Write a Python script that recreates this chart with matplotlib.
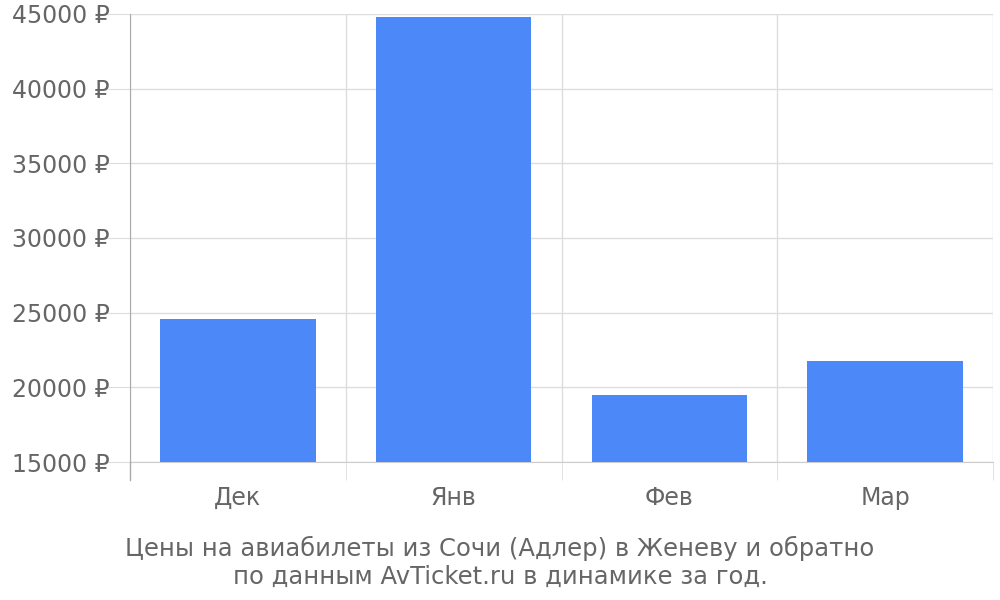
import matplotlib
matplotlib.use("Agg")
import matplotlib.pyplot as plt
from matplotlib.ticker import FixedLocator

months = ["Дек", "Янв", "Фев", "Мар"]
prices = [24550, 44800, 19500, 21750]
yticks = [15000, 20000, 25000, 30000, 35000, 40000, 45000]
ytick_labels = [f"{v} ₽" for v in yticks]
title = "Цены на авиабилеты из Сочи (Адлер) в Женеву и обратно\nпо данным AvTicket.ru в динамике за год."

plt.rcParams['font.family'] = ['DejaVu Sans']
txt = '#666666'
grid = '#dddddd'

fig = plt.figure(figsize=(10, 6), dpi=100)
ax = fig.add_axes([0.13, 0.23, 0.863, 0.7467])

x = list(range(len(months)))
ax.bar(x, prices, width=0.72, color='#4d88f9', zorder=3)

ax.set_xlim(-0.5, len(months) - 0.5)
ax.set_ylim(15000, 45000)
ax.set_yticks(yticks)
ax.set_yticklabels(ytick_labels)
ax.set_xticks(x)
ax.set_xticklabels(months)
ax.xaxis.set_minor_locator(FixedLocator([i - 0.5 for i in range(len(months) + 1)]))

ax.tick_params(axis='y', length=15.8, color=grid, labelcolor=txt, labelsize=17, pad=-1)
ax.tick_params(axis='x', which='major', length=0, labelcolor=txt, labelsize=17, pad=17)
ax.tick_params(axis='x', which='minor', length=13, color=grid)

ax.grid(axis='y', color=grid, lw=1, zorder=0)
ax.grid(axis='x', which='minor', color=grid, lw=1, zorder=0)

for s in ['top', 'right']:
    ax.spines[s].set_visible(False)
ax.spines['bottom'].set_color('#cccccc')
ax.spines['left'].set_color('#aaaaaa')
ax.plot([0, 0], [0, -18 / 448], transform=ax.transAxes, color='#aaaaaa', lw=1, clip_on=False, zorder=4)

fig.text(0.5, 0.063, title, ha='center', va='center', color=txt, fontsize=17.5, linespacing=1.2)

fig.savefig("out.png", dpi=100)
